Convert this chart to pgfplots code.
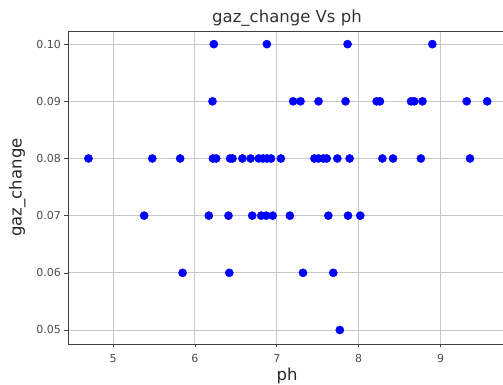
\documentclass[border=0pt]{standalone}
\usepackage{pgfplots}
\pgfplotsset{compat=1.18}
\usepackage{fontspec}
\setmainfont{DejaVu Sans}
\begin{document}
\begin{tikzpicture}
\useasboundingbox (-68pt,-41pt) rectangle (435pt,344pt);
\begin{axis}[
  scale only axis,
  width=438pt, height=313pt,
  xmin=4.45, xmax=9.80,
  ymin=0.04755, ymax=0.1023,
  xtick={5,6,7,8,9},
  ytick={0.05,0.06,0.07,0.08,0.09,0.10},
  /pgf/number format/assume math mode=true,
  yticklabel style={/pgf/number format/.cd, fixed, fixed zerofill, precision=2},
  scaled y ticks=false,
  ticklabel style={font=\fontsize{11}{12}\selectfont, text=black!70},
  xticklabel style={yshift=-3pt},
  tick align=outside,
  tick style={black!75, line width=0.6pt},
  major tick length=3.5pt,
  xtick pos=bottom, ytick pos=left,
  grid=major,
  major grid style={black!22, line width=0.9pt},
  axis line style={black!75, line width=0.9pt},
  title={gaz\_change Vs ph},
  title style={font=\fontsize{16.5}{18}\selectfont, text=black!80, yshift=-5pt},
  xlabel={ph},
  ylabel={gaz\_change},
  label style={font=\fontsize{16.5}{18}\selectfont, text=black!85},
  xlabel style={yshift=1.5pt},
  ylabel style={yshift=4pt},
]
\addplot[only marks, mark=*, mark size=4.1pt, color=blue, mark options={fill=blue, draw=blue}] coordinates {
(6.231,0.10) (6.879,0.10) (7.865,0.10) (8.90,0.10)
(6.215,0.09) (7.20,0.09) (7.29,0.09) (7.51,0.09) (7.84,0.09) (8.22,0.09) (8.26,0.09)
(8.64,0.09) (8.68,0.09) (8.78,0.09) (9.32,0.09) (9.57,0.09)
(4.70,0.08) (5.48,0.08) (5.82,0.08) (6.22,0.08) (6.26,0.08) (6.43,0.08) (6.46,0.08)
(6.58,0.08) (6.68,0.08) (6.78,0.08) (6.83,0.08) (6.88,0.08) (6.93,0.08) (7.05,0.08)
(7.46,0.08) (7.51,0.08) (7.57,0.08) (7.61,0.08) (7.74,0.08) (7.89,0.08) (8.29,0.08)
(8.42,0.08) (8.76,0.08) (9.36,0.08)
(5.38,0.07) (6.17,0.07) (6.41,0.07) (6.70,0.07) (6.81,0.07) (6.87,0.07) (6.95,0.07)
(7.16,0.07) (7.63,0.07) (7.87,0.07) (8.02,0.07)
(5.85,0.06) (6.42,0.06) (7.32,0.06) (7.69,0.06)
(7.77,0.05)
};
\end{axis}
\end{tikzpicture}
\end{document}
